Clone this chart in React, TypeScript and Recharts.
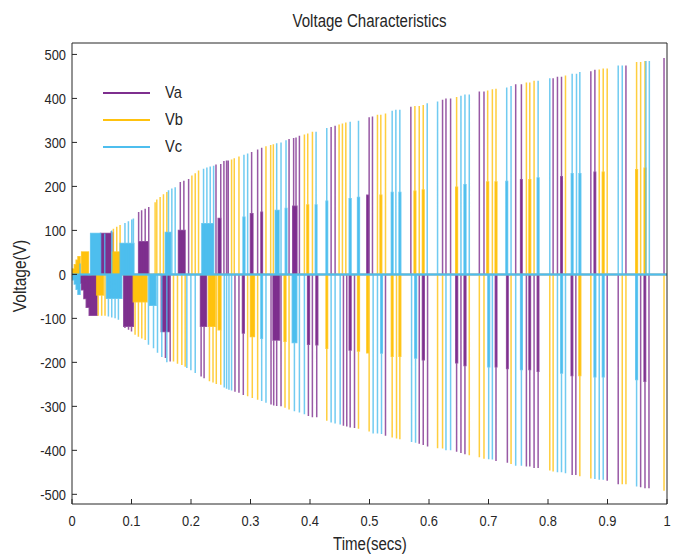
import { Area, ComposedChart, ReferenceLine, XAxis, YAxis } from "recharts"

type Pulse = [number, number]
type Block = [number, number, number]

const timeTicks = [0, 0.1, 0.2, 0.3, 0.4, 0.5, 0.6, 0.7, 0.8, 0.9, 1]
const voltTicks = [-500, -400, -300, -200, -100, 0, 100, 200, 300, 400, 500]
const seriesNames = ["Va", "Vb", "Vc"]
const seriesColors = ["#7E2F8E", "#FFC20E", "#4DBEEE"]

// thin switching pulses: [time, voltage]
const vaPulses: Pulse[] = [
  [0.066, 98], [0.069, 96],
  [0.089, -122], [0.095, -126], [0.1, -130],
  [0.112, 142], [0.117, 146], [0.123, 149], [0.129, 153],
  [0.157, -190], [0.165, -198],
  [0.182, 210], [0.188, 213], [0.196, 217],
  [0.217, -232], [0.222, -236],
  [0.242, 250], [0.25, 251], [0.2553, 258], [0.2598, 259], [0.2626, 259],
  [0.2739, -267], [0.2806, -269], [0.2879, -274],
  [0.3019, 278], [0.312, 284], [0.3188, 288],
  [0.3345, -296], [0.339, -298], [0.344, -299], [0.3513, -300],
  [0.3648, 308], [0.3725, 310], [0.3765, 311], [0.3822, 315],
  [0.3973, -322], [0.404, -325], [0.4113, -325],
  [0.4355, 335], [0.4422, 338],
  [0.4562, -344], [0.4618, -346], [0.4675, -348], [0.4748, -349],
  [0.4994, 357], [0.505, 359],
  [0.5269, -367],
  [0.5695, 381],
  [0.5836, -385], [0.5903, -388], [0.5976, -391],
  [0.6228, 397], [0.6285, 400], [0.6363, 400],
  [0.6464, -403], [0.6537, -406], [0.6604, -409],
  [0.6846, 416], [0.6924, 416],
  [0.7126, -424], [0.7317, -428],
  [0.7457, 432], [0.7553, 432],
  [0.7637, -437], [0.7694, -437], [0.7766, -440], [0.7834, -440],
  [0.8086, 446], [0.8159, 449], [0.8227, 449],
  [0.8406, -456], [0.8468, -456],
  [0.872, 462], [0.8788, 465],
  [0.8995, -469], [0.918, -477],
  [0.931, 475],
  [0.9557, -484], [0.963, -486], [0.9697, -486],
  [0.995, 492],
]

// wider / half-level segments: [start, end, voltage]
const vaBlocks: Block[] = [
  [0.012, 0.016, -20], [0.016, 0.02, -35], [0.02, 0.024, -55], [0.024, 0.029, -75], [0.029, 0.042, -93],
  [0.048, 0.066, 93], [0.087, 0.103, -118], [0.112, 0.128, 74], [0.15, 0.164, -130],
  [0.179, 0.19, 100], [0.216, 0.226, -118], [0.2458, 0.2503, 127], [0.2865, 0.2895, -133],
  [0.3, 0.304, 138], [0.3175, 0.32, 141], [0.3378, 0.3485, -149], [0.371, 0.378, 155],
  [0.396, 0.399, -159], [0.41, 0.413, -160], [0.466, 0.469, -172], [0.4955, 0.4985, 180],
  [0.589, 0.592, -194], [0.645, 0.648, -201], [0.659, 0.662, -207], [0.7115, 0.714, -210],
  [0.7305, 0.733, -214], [0.754, 0.7565, 215], [0.768, 0.7705, -216], [0.782, 0.7845, -220],
  [0.8215, 0.824, 222], [0.839, 0.8415, -230], [0.8775, 0.88, 232], [0.9615, 0.964, -243],
]

const vbPulses: Pulse[] = [
  [0.044, -94], [0.0499, -94], [0.0555, -94],
  [0.0696, 104], [0.0752, 108], [0.0808, 112],
  [0.106, -137], [0.1116, -142], [0.1173, -146], [0.123, -149],
  [0.1397, 164], [0.1425, 170], [0.1481, 176], [0.1537, 182], [0.1594, 187],
  [0.1706, -198], [0.1773, -203], [0.1846, -206], [0.1902, -210],
  [0.2015, 225], [0.2071, 230], [0.2127, 236],
  [0.231, -243], [0.237, -246], [0.2425, -249], [0.25, -251],
  [0.2682, 261], [0.2727, 264], [0.2806, 268],
  [0.2952, -277], [0.303, -281], [0.312, -285],
  [0.326, 291], [0.3339, 294], [0.3384, 296],
  [0.358, -303], [0.3648, -307],
  [0.3906, 318], [0.3962, 320], [0.4041, 324],
  [0.4282, -333],
  [0.4489, 341], [0.4545, 343], [0.4602, 345],
  [0.4815, -351], [0.4994, -357],
  [0.5134, 363], [0.519, 363], [0.5269, 366],
  [0.5381, -371], [0.5454, -373], [0.551, -375],
  [0.5763, 383], [0.5836, 383], [0.5903, 385],
  [0.6144, -395], [0.6228, -396],
  [0.6464, 403],
  [0.6677, -411], [0.6846, -416], [0.6924, -419],
  [0.6986, 418], [0.7065, 421], [0.7126, 422],
  [0.7379, -431],
  [0.7637, 436], [0.7694, 436], [0.7766, 440],
  [0.803, -446], [0.8086, -448],
  [0.8294, 452],
  [0.8535, -459], [0.872, -464],
  [0.8861, 466], [0.8928, 468], [0.8995, 468],
  [0.9248, -477], [0.931, -477],
  [0.9489, 483], [0.9557, 483], [0.963, 485],
  [0.995, -492],
]

const vbBlocks: Block[] = [
  [0.001, 0.004, 12], [0.004, 0.007, 22], [0.007, 0.01, 32], [0.01, 0.0135, 40],
  [0.0163, 0.0275, 51], [0.0415, 0.0527, -47], [0.067, 0.081, 51], [0.103, 0.126, -62],
  [0.2295, 0.2403, -118], [0.2458, 0.2503, -126], [0.3, 0.3065, -141], [0.3565, 0.3595, -152],
  [0.3948, 0.3975, 158], [0.427, 0.4295, -168], [0.48, 0.483, -174], [0.4955, 0.4985, -178],
  [0.5177, 0.5205, 180], [0.5368, 0.5395, -186], [0.5497, 0.5525, -186], [0.575, 0.5777, 189],
  [0.589, 0.5917, 192], [0.645, 0.6478, 198], [0.6972, 0.7, 210], [0.7112, 0.714, 210],
  [0.768, 0.7708, 215], [0.852, 0.855, -230], [0.8914, 0.8942, 232], [0.9475, 0.9503, 238],
  [0.9616, 0.9644, 241],
]

const vcPulses: Pulse[] = [
  [0.0135, 25], [0.055, 93], [0.0668, 100],
  [0.0612, -96], [0.0668, -98], [0.0724, -100], [0.078, -103],
  [0.089, 117], [0.0948, 121], [0.1004, 125], [0.1032, 127],
  [0.1285, -160], [0.137, -168], [0.1437, -178], [0.1509, -188], [0.1594, -200],
  [0.1622, 191], [0.1678, 195], [0.1734, 198],
  [0.193, -213], [0.1998, -218], [0.2071, -224],
  [0.2211, 240], [0.2267, 243], [0.2323, 245], [0.238, 247],
  [0.2559, -257], [0.2598, -260], [0.2638, -262], [0.2682, -264],
  [0.289, 272], [0.2952, 275],
  [0.3188, -288], [0.326, -292],
  [0.344, 298], [0.3513, 300], [0.3597, 305],
  [0.3738, -311], [0.3822, -314], [0.3906, -318],
  [0.4102, 324], [0.4282, 333],
  [0.4355, -337], [0.4422, -339], [0.4507, -341],
  [0.4675, 347], [0.4815, 349],
  [0.5061, -362], [0.5134, -362], [0.5202, -363],
  [0.5381, 372], [0.5443, 374], [0.551, 374],
  [0.5707, -381], [0.5774, -383],
  [0.597, 389], [0.6144, 393],
  [0.6285, -400], [0.6363, -400],
  [0.6537, 406], [0.6604, 409], [0.6677, 409],
  [0.7003, -420], [0.7065, -421],
  [0.7306, 425], [0.7379, 428],
  [0.7457, -435], [0.7553, -435],
  [0.7834, 440], [0.803, 446],
  [0.8159, -450], [0.8227, -450], [0.8294, -452],
  [0.8406, 456], [0.8479, 456], [0.8535, 460],
  [0.8788, -465], [0.8861, -467], [0.8928, -467],
  [0.918, 475], [0.9248, 475],
  [0.9489, -482],
  [0.9646, 485], [0.9703, 485],
]

const vcBlocks: Block[] = [
  [0.001, 0.004, -12], [0.004, 0.007, -22], [0.007, 0.01, -34], [0.01, 0.0135, -45],
  [0.0314, 0.048, 93], [0.058, 0.0836, -54], [0.081, 0.104, 70], [0.13, 0.141, -70],
  [0.157, 0.166, 95], [0.2183, 0.238, 115], [0.2875, 0.2905, 130], [0.3175, 0.32, -145],
  [0.3418, 0.3479, 145], [0.3585, 0.361, 150], [0.3703, 0.3777, -155], [0.409, 0.4115, 158],
  [0.427, 0.4295, 166], [0.466, 0.469, 172], [0.48, 0.483, 175], [0.519, 0.5215, -179],
  [0.5368, 0.5395, 186], [0.5497, 0.5525, 186], [0.5762, 0.579, -190], [0.659, 0.662, 204],
  [0.699, 0.7018, -210], [0.7293, 0.732, 211], [0.754, 0.7567, -216], [0.782, 0.7848, 219],
  [0.8215, 0.8242, -224], [0.8393, 0.842, 229], [0.8522, 0.855, 229], [0.8775, 0.8802, -233],
  [0.8915, 0.8942, -233], [0.9475, 0.9503, -239],
]

function buildWave(pulses: Pulse[], blocks: Block[]) {
  const spans: Block[] = [...pulses.map(([t, v]) => [t, t, v] as Block), ...blocks]
  spans.sort((a, b) => a[0] - b[0])
  const pts = [{ t: 0, v: 0 }]
  for (const [t0, t1, v] of spans) {
    pts.push({ t: t0, v: 0 }, { t: t0, v }, { t: t1, v }, { t: t1, v: 0 })
  }
  pts.push({ t: 1, v: 0 })
  return pts
}

const waves = [
  buildWave(vaPulses, vaBlocks),
  buildWave(vbPulses, vbBlocks),
  buildWave(vcPulses, vcBlocks),
]

const font = "'Liberation Sans', Arial, sans-serif"
const ink = "#262626"
const squeeze = 0.86

function TimeTick(props: any) {
  const { x, y, payload } = props
  return (
    <text transform={`translate(${x},${y}) scale(${squeeze},1)`} dy="0.71em" textAnchor="middle" fill={ink} fontSize={15} fontFamily={font}>
      {payload.value}
    </text>
  )
}

function VoltTick(props: any) {
  const { x, y, payload } = props
  return (
    <text transform={`translate(${x},${y}) scale(${squeeze},1)`} dy="0.36em" textAnchor="end" fill={ink} fontSize={15} fontFamily={font}>
      {payload.value}
    </text>
  )
}

const squeezed = { transform: `scaleX(${squeeze})`, display: "inline-block" }

export default function App() {
  return (
    <div style={{ position: "absolute", left: 0, top: 0, width: 673, height: 554, background: "#fff", fontFamily: font }}>
      <ComposedChart width={673} height={554} margin={{ top: 42, right: 5, bottom: 20, left: 12 }}>
        <XAxis
          dataKey="t"
          type="number"
          domain={[0, 1]}
          ticks={timeTicks}
          height={30}
          tickSize={-5}
          tickMargin={16}
          stroke={ink}
          tick={<TimeTick />}
        />
        <XAxis
          xAxisId="top"
          orientation="top"
          type="number"
          domain={[0, 1]}
          ticks={timeTicks}
          height={1}
          tick={false}
          tickSize={-5}
          stroke={ink}
        />
        <YAxis
          type="number"
          domain={[-522, 526]}
          ticks={voltTicks}
          width={60}
          tickSize={-5}
          tickMargin={11}
          stroke={ink}
          tick={<VoltTick />}
        />
        <YAxis
          yAxisId="right"
          orientation="right"
          type="number"
          domain={[-522, 526]}
          ticks={voltTicks}
          width={1}
          tick={false}
          tickSize={-5}
          stroke={ink}
        />
        {waves.map((data, i) => (
          <Area
            key={seriesNames[i]}
            name={seriesNames[i]}
            data={data}
            dataKey="v"
            type="linear"
            baseValue={0}
            stroke={seriesColors[i]}
            strokeWidth={1.5}
            strokeOpacity={0.8}
            fill={seriesColors[i]}
            fillOpacity={1}
            dot={false}
            activeDot={false}
            isAnimationActive={false}
          />
        ))}
        <ReferenceLine y={0} stroke={seriesColors[2]} strokeWidth={2} />
      </ComposedChart>
      <div style={{ position: "absolute", left: 72, width: 595, top: 11, textAlign: "center", fontSize: 17.5, color: ink }}>
        <span style={squeezed}>Voltage Characteristics</span>
      </div>
      <div style={{ position: "absolute", left: 72, width: 595, top: 534, textAlign: "center", fontSize: 17.5, color: ink }}>
        <span style={squeezed}>Time(secs)</span>
      </div>
      <div style={{ position: "absolute", left: 20, top: 276, transform: `translate(-50%, -50%) rotate(-90deg) scaleX(${squeeze})`, fontSize: 18, color: ink, whiteSpace: "nowrap" }}>
        Voltage(V)
      </div>
      <div style={{ position: "absolute", left: 103, top: 79 }}>
        {seriesNames.map((n, i) => (
          <div key={n} style={{ display: "flex", alignItems: "center", height: 27 }}>
            <div style={{ width: 47, borderTop: `2px solid ${seriesColors[i]}` }} />
            <span style={{ marginLeft: 15, fontSize: 17, color: ink, ...squeezed, transformOrigin: "left center" }}>{n}</span>
          </div>
        ))}
      </div>
    </div>
  )
}
